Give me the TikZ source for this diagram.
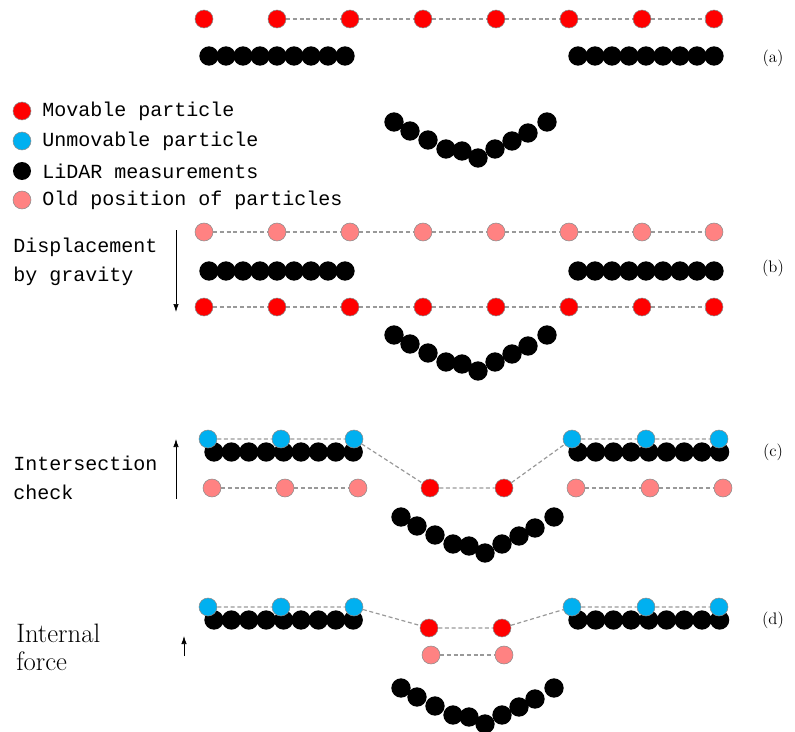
\documentclass[tikz,border=0pt]{standalone}
\usepackage{fontspec}
\setmonofont{Liberation Mono}
\usetikzlibrary{arrows.meta}

\definecolor{movred}{RGB}{255,0,0}
\definecolor{fixblue}{RGB}{0,176,240}
\definecolor{oldpink}{RGB}{255,130,130}

\tikzset{
  particle/.style={circle, draw=black!45, line width=0.4pt, minimum size=13.5pt, inner sep=0pt},
  movable/.style={particle, fill=movred},
  unmovable/.style={particle, fill=fixblue},
  oldpos/.style={particle, fill=oldpink},
  lidar/.style={circle, fill=black, minimum size=14.5pt, inner sep=0pt},
  link/.style={draw=black!40, line width=0.9pt, dash pattern=on 3pt off 2pt},
  legendtxt/.style={font=\ttfamily\fontsize{15pt}{18pt}\selectfont, anchor=west, inner sep=0pt},
  steptxt/.style={font=\ttfamily\fontsize{15pt}{21.75pt}\selectfont, align=left, anchor=west, inner sep=0pt},
  panellabel/.style={font=\fontsize{12.5pt}{14pt}\selectfont, inner sep=0pt},
  moveto/.style={-{Latex[length=6pt,width=4pt]}, line width=0.5pt}
}

% valley of LiDAR points: name prefix, x shift, y shift
\newcommand{\lidarvalley}[3]{%
  \foreach \px/\py [count=\k] in {394/122, 410/131, 428/140, 446/149, 462/151,
                                  478/158, 495/149, 512/141, 528/133, 547/122}
    \node[lidar] (#1v\k) at (\px+#2, \py+#3) {};
}

\begin{document}
\begin{tikzpicture}[x=0.75pt, y=-0.75pt]
    \useasboundingbox (0,0) rectangle (795,731);

    % (a) initial particles above the measurements
    \foreach \k in {0,...,8} \node[lidar] (aL\k) at (209+17*\k, 56) {};
    \foreach \k in {0,...,8} \node[lidar] (aR\k) at (578+17*\k, 56) {};
    \lidarvalley{a}{0}{0}
    \foreach \px [count=\k] in {204,277,350,423,496,569,642,714}
        \node[movable] (a\k) at (\px, 19) {};
    \foreach \k [evaluate=\k as \n using int(\k+1)] in {2,...,7}
        \draw[link] (a\k) -- (a\n);
    \node[panellabel] (laba) at (773, 58) {(a)};

    % legend
    \node[movable] (keymov) at (22, 111) {};
    \node[unmovable] (keyfix) at (22, 141) {};
    \node[lidar, minimum size=13.5pt] (keylid) at (22, 171) {};
    \node[oldpos] (keyold) at (22, 200) {};
    \node[legendtxt] at (42, 111) {Movable particle};
    \node[legendtxt] at (42, 141) {Unmovable particle};
    \node[legendtxt] at (42, 171) {LiDAR measurements};
    \node[legendtxt] at (42, 200) {Old position of particles};

    % (b) displacement by gravity
    \foreach \k in {0,...,8} \node[lidar] (bL\k) at (209+17*\k, 271) {};
    \foreach \k in {0,...,8} \node[lidar] (bR\k) at (578+17*\k, 271) {};
    \lidarvalley{b}{0}{213}
    \foreach \px [count=\k] in {204,277,350,423,496,569,642,714} {
        \node[oldpos] (bo\k) at (\px, 232) {};
        \node[movable] (bm\k) at (\px, 307) {};
    }
    \foreach \k [evaluate=\k as \n using int(\k+1)] in {1,...,7} {
        \draw[link] (bo\k) -- (bo\n);
        \draw[link] (bm\k) -- (bm\n);
    }
    \node[steptxt] (gravtxt) at (13, 261.5) {Displacement\\by gravity};
    \coordinate (gtop) at (176, 230);
    \coordinate (gbot) at (176, 312);
    \draw[moveto] (gtop) -- (gbot);
    \node[panellabel] (labb) at (773, 268) {(b)};

    % (c) intersection check
    \foreach \k in {0,...,8} \node[lidar] (cL\k) at (214+17.4*\k, 452) {};
    \foreach \k in {0,...,8} \node[lidar] (cR\k) at (578+17.7*\k, 452) {};
    \lidarvalley{c}{7}{395}
    \foreach \px [count=\k] in {208,281,354} \node[unmovable] (cf\k) at (\px, 439) {};
    \foreach \px [count=\k] in {572,646,719} \node[unmovable] (cg\k) at (\px, 439) {};
    \foreach \px [count=\k] in {212,285,358} \node[oldpos] (co\k) at (\px, 488) {};
    \foreach \px [count=\k] in {576,650,723} \node[oldpos] (cp\k) at (\px, 488) {};
    \node[movable] (cm1) at (430, 488) {};
    \node[movable] (cm2) at (504, 488) {};
    \draw[link] (cf1) -- (cf2) -- (cf3) -- (cm1) -- (cm2) -- (cg1) -- (cg2) -- (cg3);
    \draw[link] (co1) -- (co2) -- (co3);
    \draw[link] (cp1) -- (cp2) -- (cp3);
    \node[steptxt] (checktxt) at (13, 478) {Intersection\\check};
    \coordinate (cbot) at (176, 499);
    \coordinate (ctop) at (176, 439);
    \draw[moveto] (cbot) -- (ctop);
    \node[panellabel] (labc) at (773, 452) {(c)};

    % (d) internal force
    \foreach \k in {0,...,8} \node[lidar] (dL\k) at (214+17.4*\k, 620) {};
    \foreach \k in {0,...,8} \node[lidar] (dR\k) at (578+17.7*\k, 620) {};
    \lidarvalley{d}{7}{566}
    \foreach \px [count=\k] in {208,281,354} \node[unmovable] (df\k) at (\px, 607) {};
    \foreach \px [count=\k] in {572,646,719} \node[unmovable] (dg\k) at (\px, 607) {};
    \node[movable] (dm1) at (429, 628) {};
    \node[movable] (dm2) at (502, 628) {};
    \node[oldpos] (do1) at (431, 655) {};
    \node[oldpos] (do2) at (504, 655) {};
    \draw[link] (df1) -- (df2) -- (df3) -- (dm1) -- (dm2) -- (dg1) -- (dg2) -- (dg3);
    \draw[link] (do1) -- (do2);
    \node[align=left, anchor=west, inner sep=0pt, font=\fontsize{20pt}{21pt}\selectfont]
        (forcetxt) at (16, 647) {Internal\\force};
    \coordinate (dbot) at (184, 656);
    \coordinate (dtop) at (184, 636);
    \draw[moveto] (dbot) -- (dtop);
    \node[panellabel] (labd) at (773, 620) {(d)};
\end{tikzpicture}
\end{document}
